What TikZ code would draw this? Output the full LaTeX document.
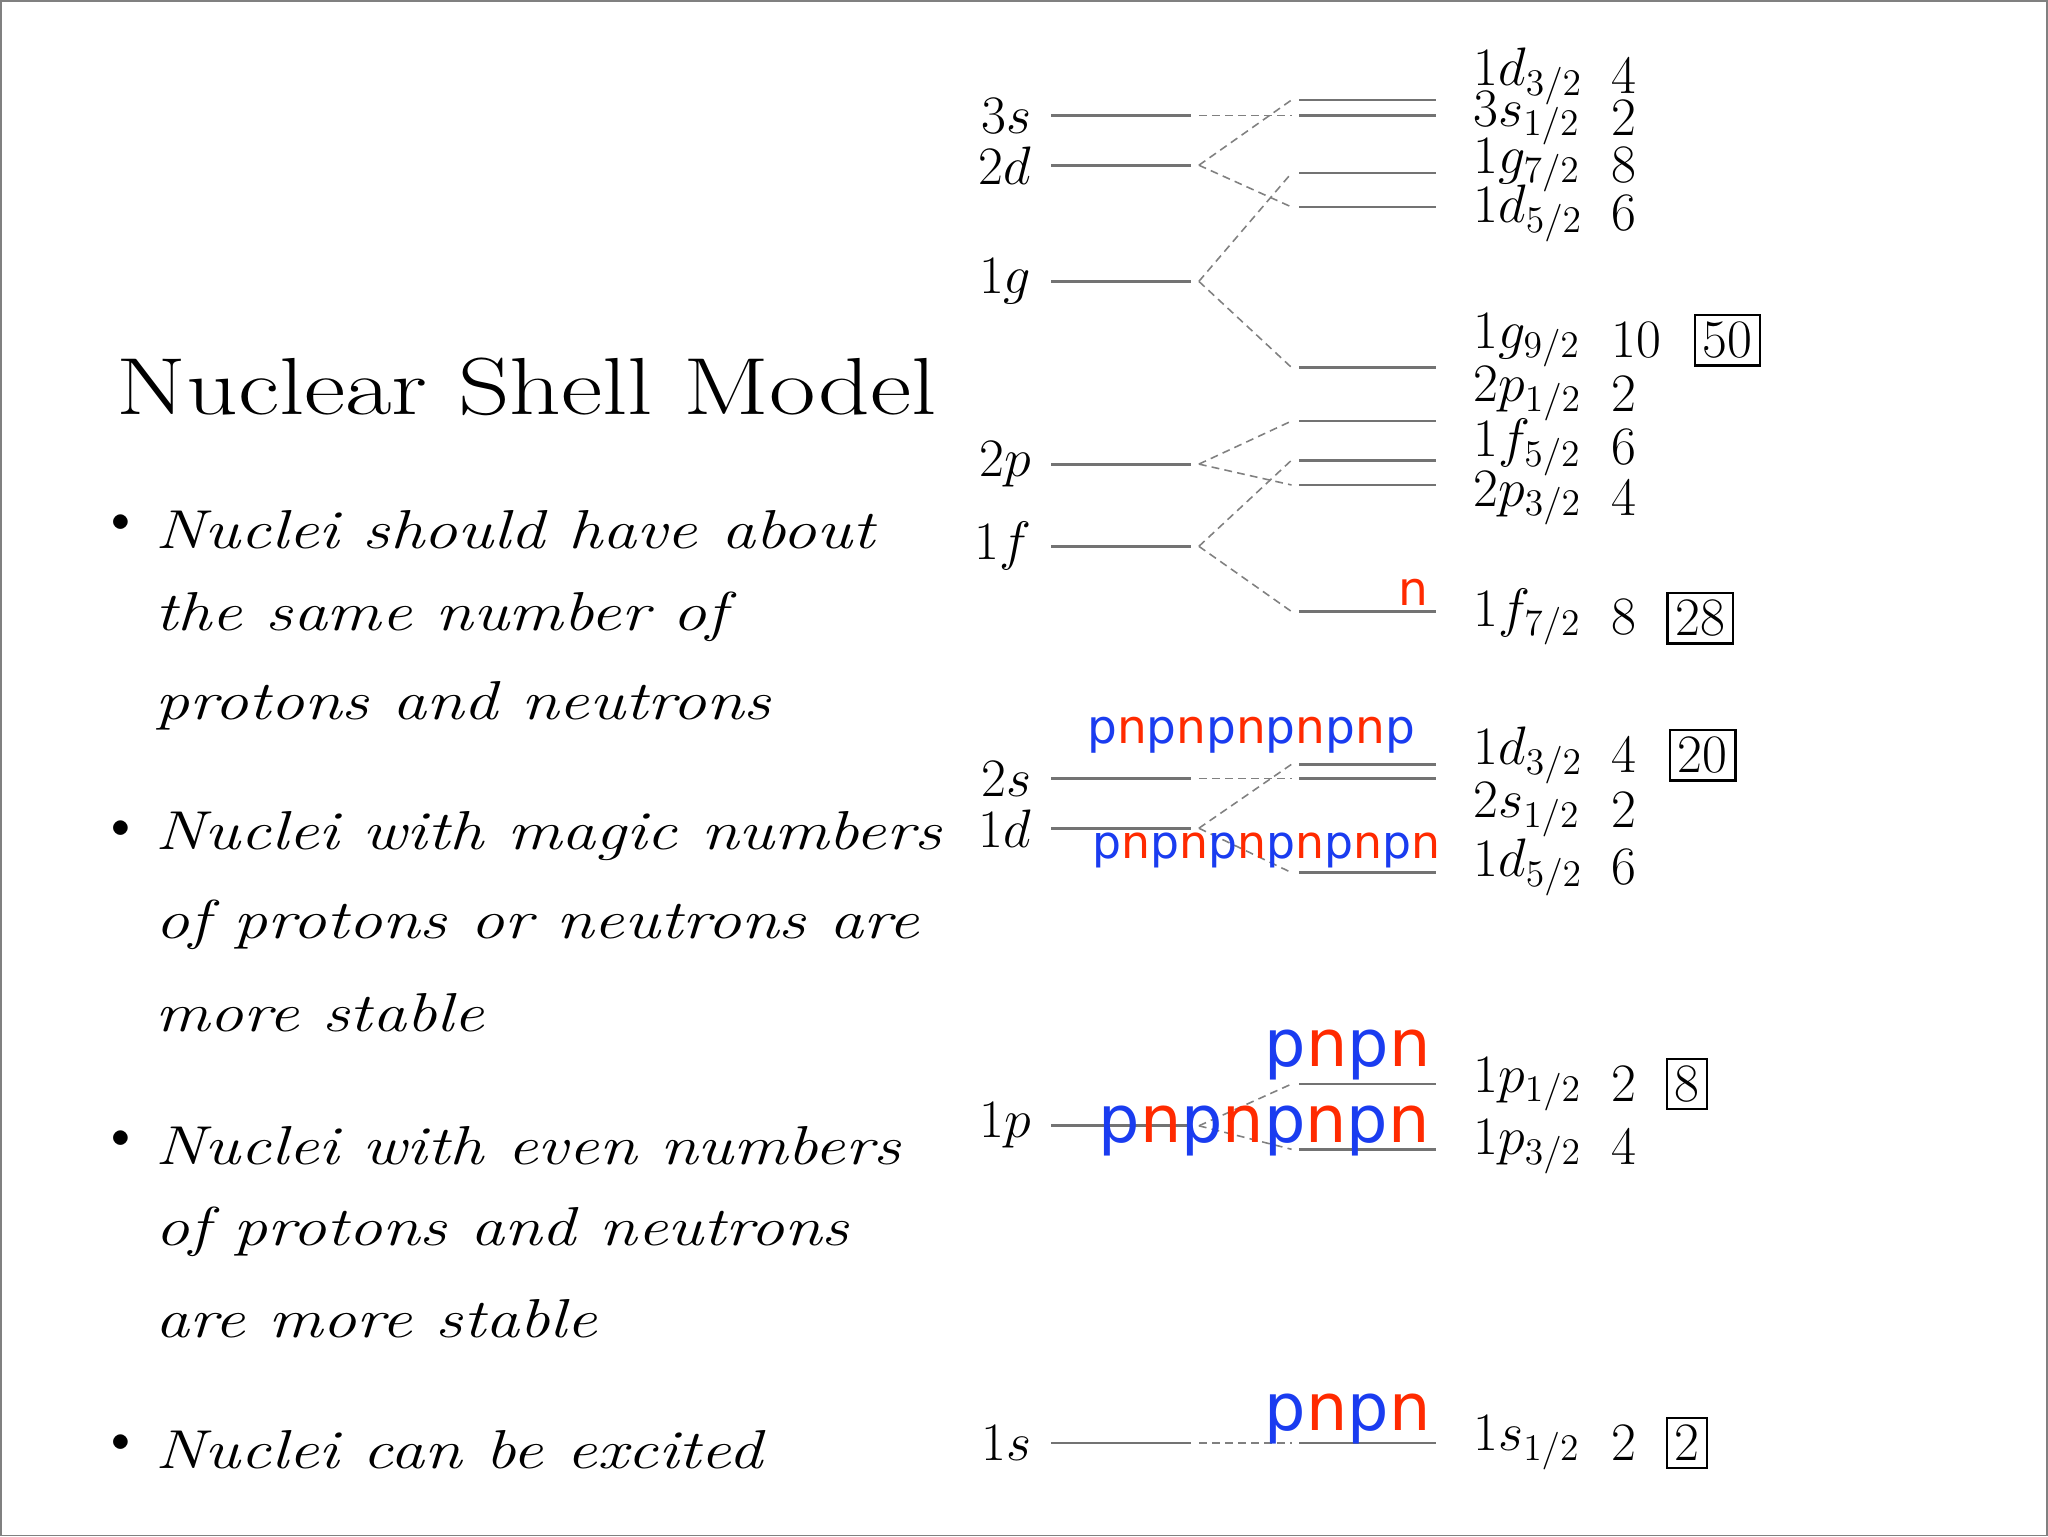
\documentclass[tikz,border=0pt]{standalone}
\usepackage{fontspec}
\newfontfamily\sans{DejaVu Sans}
\begin{document}
\begin{tikzpicture}[x=0.5pt,y=-0.5pt,
  lev/.style={gray!90!black,line width=1.1pt},
  con/.style={gray,line width=0.6pt,dash pattern=on 3pt off 2pt},
  lab/.style={anchor=west,inner sep=0pt,font=\fontsize{21.5}{24}\selectfont},
  llab/.style={anchor=east,inner sep=0pt,font=\fontsize{22}{24}\selectfont},
  num/.style={anchor=west,inner sep=0pt,font=\fontsize{21.5}{24}\selectfont},
  box/.style={draw,line width=0.9pt,inner sep=3pt,font=\fontsize{21.5}{24}\selectfont},
  bul/.style={anchor=west,inner sep=0pt,font=\itshape\fontsize{21}{24}\selectfont,xscale=1.24,transform shape}]
\definecolor{pb}{HTML}{1A3CF0}\definecolor{nr}{HTML}{FF2A00}
\draw[gray,line width=0.6pt,fill=white] (0,0) rectangle (1568,1176);
\useasboundingbox (0,0) rectangle (1568,1176);
\node[anchor=west,inner sep=0pt,font=\fontsize{31}{34}\selectfont,xscale=1.25,transform shape] (title) at (88,296) {Nuclear Shell Model};
% bullets
\foreach \y/\t [count=\i] in {405/Nuclei should have about,640/Nuclei with magic numbers,877/Nuclei with even numbers,1110/Nuclei can be excited}
  {\node[inner sep=0pt,font=\fontsize{14}{14}\selectfont] (b\i) at (92,\y-5) {$\bullet$};
   \node[bul] (t\i) at (118,\y) {\t};}
\foreach \y/\t [count=\i] in {472/the same number of,540/protons and neutrons,708/of protons or neutrons are,775/more stable,943/of protons and neutrons,1010/are more stable}
  \node[bul] (c\i) at (118,\y) {\t};
% left levels
\foreach \n/\y/\l in {L3s/88/3s,L2d/126/2d,L1g/215/1g,L2p/355/2p,L1f/418/1f,L2s/596/2s,L1d/634/1d,L1p/862/1p,L1s/1105/1s}{
  \coordinate (\n a) at (805,\y); \coordinate (\n) at (912,\y);
  \draw[lev] (\n a) -- (\n);
  \node[llab] at (790,\y) {$\l$};}
% right levels
\foreach \n/\y in {R1/76,R2/88,R3/132,R4/158,R5/281,R6/322,R7/352,R8/371,R9/468,R10/585,R11/596,R12/668,R13/830,R14/880,R15/1105}{
  \coordinate (\n) at (995,\y); \coordinate (\n b) at (1100,\y);
  \draw[lev] (\n) -- (\n b);}
% connectors
\foreach \a/\b in {L3s/R2,L2d/R1,L2d/R4,L1g/R3,L1g/R5,L2p/R6,L2p/R8,L1f/R7,L1f/R9,L2s/R11,L1d/R10,L1d/R12,L1p/R13,L1p/R14,L1s/R15}
  \draw[con] ([xshift=3pt]\a) -- ([xshift=-3pt]\b);
% right labels
\foreach \y/\l/\m in {58/1d_{3/2}/4,90/3s_{1/2}/2,126/1g_{7/2}/8,163/1d_{5/2}/6,260/1g_{9/2}/10,301/2p_{1/2}/2,342/1f_{5/2}/6,381/2p_{3/2}/4,472/1f_{7/2}/8,578/1d_{3/2}/4,620/2s_{1/2}/2,664/1d_{5/2}/6,830/1p_{1/2}/2,878/1p_{3/2}/4,1105/1s_{1/2}/2}
  {\node[lab] at (1128,\y) {$\l$}; \node[num] at (1234,\y) {$\m$};}
\foreach \x/\y/\m [count=\i] in {1323/260/50,1302/473/28,1304/578/20,1292/830/8,1292/1105/2}
  \node[box] (M\i) at (\x,\y) {$\m$};
% p n labels
\newcommand{\Pp}{\textcolor{pb}{p}}\newcommand{\Nn}{\textcolor{nr}{n}}
\node[font=\sans\fontsize{18}{20}\selectfont,inner sep=0pt] (n1) at (1082,453) {\Nn};
\node[font=\sans\fontsize{18}{20}\selectfont,inner sep=0pt] (s1) at (958,563) {\Pp\Nn\Pp\Nn\Pp\Nn\Pp\Nn\Pp\Nn\Pp};
\node[font=\sans\fontsize{17.5}{20}\selectfont,inner sep=0pt] (s2) at (970,651) {\Pp\Nn\Pp\Nn\Pp\Nn\Pp\Nn\Pp\Nn\Pp\Nn};
\node[font=\sans\fontsize{25}{28}\selectfont,inner sep=0pt] (s3) at (1032,808) {\Pp\Nn\Pp\Nn};
\node[font=\sans\fontsize{25}{28}\selectfont,inner sep=0pt] (s4) at (968,866) {\Pp\Nn\Pp\Nn\Pp\Nn\Pp\Nn};
\node[font=\sans\fontsize{25}{28}\selectfont,inner sep=0pt] (s5) at (1032,1087) {\Pp\Nn\Pp\Nn};
\end{tikzpicture}
\end{document}
